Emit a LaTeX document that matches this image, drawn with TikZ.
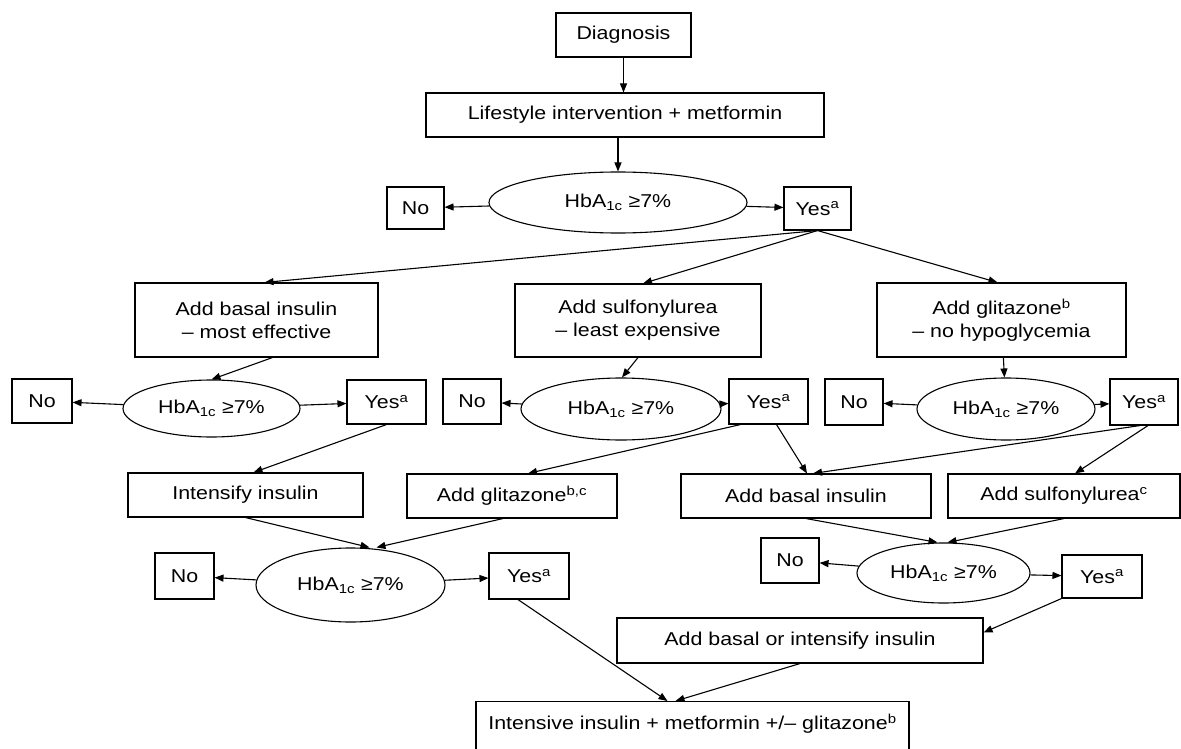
\documentclass[tikz,border=0pt]{standalone}
\usepackage{fontspec}
\setmainfont{Liberation Sans}[FakeStretch=1.15]
\usetikzlibrary{shapes.geometric,arrows.meta,calc}
\newcommand{\hbtest}{HbA\textsubscript{1c} ≥7\%}
\newcommand{\yesa}{Yes\textsuperscript{a}}

\begin{document}
\begin{tikzpicture}[x=1pt,y=-1pt,
  font=\fontsize{18.6}{23}\selectfont,
  line width=1.1pt,
  >={Triangle[length=9pt,width=7pt]},
  box/.style={draw,rectangle,inner sep=0pt,align=center},
  test/.style={draw,ellipse,inner sep=0pt}]
\useasboundingbox (0,0) rectangle (1181,749);
\clip (0,0) rectangle (1181,749);

% start
\node[box,minimum width=135pt,minimum height=44pt] (diag) at (623.5,35) {Diagnosis};
\node[box,minimum width=398pt,minimum height=44pt] (life) at (625,115) {Lifestyle intervention + metformin};
\node[test,minimum width=258pt,minimum height=61pt] (hb1) at (618,202.5) {\hbtest};
\node[box,minimum width=57pt,minimum height=42pt] (no1) at (415.5,208) {No};
\node[box,minimum width=67pt,minimum height=43pt] (yes1) at (817.5,208.5) {\yesa};

% three choices
\node[box,minimum width=243pt,minimum height=74pt] (basal) at (256.5,320) {Add basal insulin\\-- most effective};
\node[box,minimum width=246pt,minimum height=73pt] (sulf) at (638,320.5) {Add sulfonylurea\\-- least expensive};
\node[box,minimum width=249pt,minimum height=74pt] (glit) at (1001.5,320) {Add glitazone\textsuperscript{b}\\-- no hypoglycemia};

% second test
\node[test,minimum width=177pt,minimum height=57pt] (hbA) at (211.5,408.5) {\hbtest};
\node[box,minimum width=60pt,minimum height=44pt] (noA) at (42,401) {No};
\node[box,minimum width=79pt,minimum height=44pt] (yesA) at (386.5,402) {\yesa};
\node[test,minimum width=200pt,minimum height=62pt] (hbB) at (621,409) {\hbtest};
\node[box,minimum width=58pt,minimum height=45pt] (noB) at (472,401.5) {No};
\node[box,minimum width=79pt,minimum height=45pt] (yesB) at (768.5,401.5) {\yesa};
\node[test,minimum width=178pt,minimum height=62pt] (hbC) at (1006,409) {\hbtest};
\node[box,minimum width=58pt,minimum height=46pt] (noC) at (854,402) {No};
\node[box,minimum width=68pt,minimum height=46pt] (yesC) at (1144,402) {\yesa};

% next step
\node[box,minimum width=235pt,minimum height=44pt] (intens) at (245.5,495) {Intensify insulin};
\node[box,minimum width=210pt,minimum height=44pt] (glitbc) at (512,496) {Add glitazone\textsuperscript{b,c}};
\node[box,minimum width=250pt,minimum height=44pt] (basal2) at (806,496) {Add basal insulin};
\node[box,minimum width=232pt,minimum height=44pt] (sulf2) at (1064,496) {Add sulfonylurea\textsuperscript{c}};

% third test
\node[test,minimum width=189pt,minimum height=74pt] (hbE) at (350.5,585) {\hbtest};
\node[box,minimum width=59pt,minimum height=46pt] (noE) at (184.5,576) {No};
\node[box,minimum width=80pt,minimum height=46pt] (yesE) at (529,576) {\yesa};
\node[test,minimum width=173pt,minimum height=60pt] (hbD) at (943.5,573) {\hbtest};
\node[box,minimum width=58pt,minimum height=45pt] (noD) at (790,560.5) {No};
\node[box,minimum width=80pt,minimum height=43pt] (yesD) at (1102,576.5) {\yesa};
\node[box,minimum width=366pt,minimum height=45pt] (basor) at (800,640.5) {Add basal or intensify insulin};
\node[box,anchor=north,minimum width=433pt,text height=28pt,text depth=70pt] (final) at (692.5,701) {Intensive insulin + metformin +/-- glitazone\textsuperscript{b}};

% arrows
\draw[->] (diag.south) -- (diag.south |- life.north);
\draw[->] (hb1.north |- life.south) -- (hb1.north);
\draw[->] (hb1) -- (no1);
\draw[->] (hb1) -- (yes1);
\draw[->] (yes1.south) -- ($(basal.north)+(8,0)$);
\draw[->] (yes1.south) -- ($(sulf.north)+(5,0)$);
\draw[->] (yes1.south) -- ($(glit.north)+(-4,0)$);
\draw[->] ($(basal.south)+(16,0)$) -- (hbA.north);
\draw[->] (sulf.south) -- ($(hbB.north)+(1,0)$);
\draw[->] (glit) -- (hbC);
\draw[->] (hbA) -- (noA);
\draw[->] (hbA) -- (yesA);
\draw[->] (hbB) -- (noB);
\draw[->] (hbB) -- (yesB);
\draw[->] (hbC) -- (noC);
\draw[->] (hbC) -- (yesC);
\draw[->] (yesA.south) -- ($(intens.north)+(8,0)$);
\draw[->] ($(yesB.south)+(-28,0)$) -- ($(glitbc.north)+(16,0)$);
\draw[->] ($(yesB.south)+(8,0)$) -- ($(basal2.north)+(1,0)$);
\draw[->] ($(yesC.south)+(-4,0)$) -- ($(basal2.north)+(7,0)$);
\draw[->] ($(yesC.south)+(4,0)$) -- ($(sulf2.north)+(11,0)$);
\draw[->] (intens.south) -- ($(hbE.north)+(19,0)$);
\draw[->] ($(glitbc.south)+(-9,0)$) -- ($(hbE.north)+(26,0)$);
\draw[->] (basal2.south) -- ($(hbD.north)+(-6,0)$);
\draw[->] (sulf2.south) -- ($(hbD.north)+(4,0)$);
\draw[->] (hbE) -- (noE);
\draw[->] (hbE) -- (yesE);
\draw[->] (hbD) -- (noD);
\draw[->] (hbD) -- (yesD);
\draw[->] (yesD.south west) -- ($(basor.east)+(0,-8)$);
\draw[->] ($(yesE.south)+(-11,0)$) -- ($(final.north)+(-25,0)$);
\draw[->] (basor.south) -- ($(final.north)+(-17,0)$);
\end{tikzpicture}
\end{document}
